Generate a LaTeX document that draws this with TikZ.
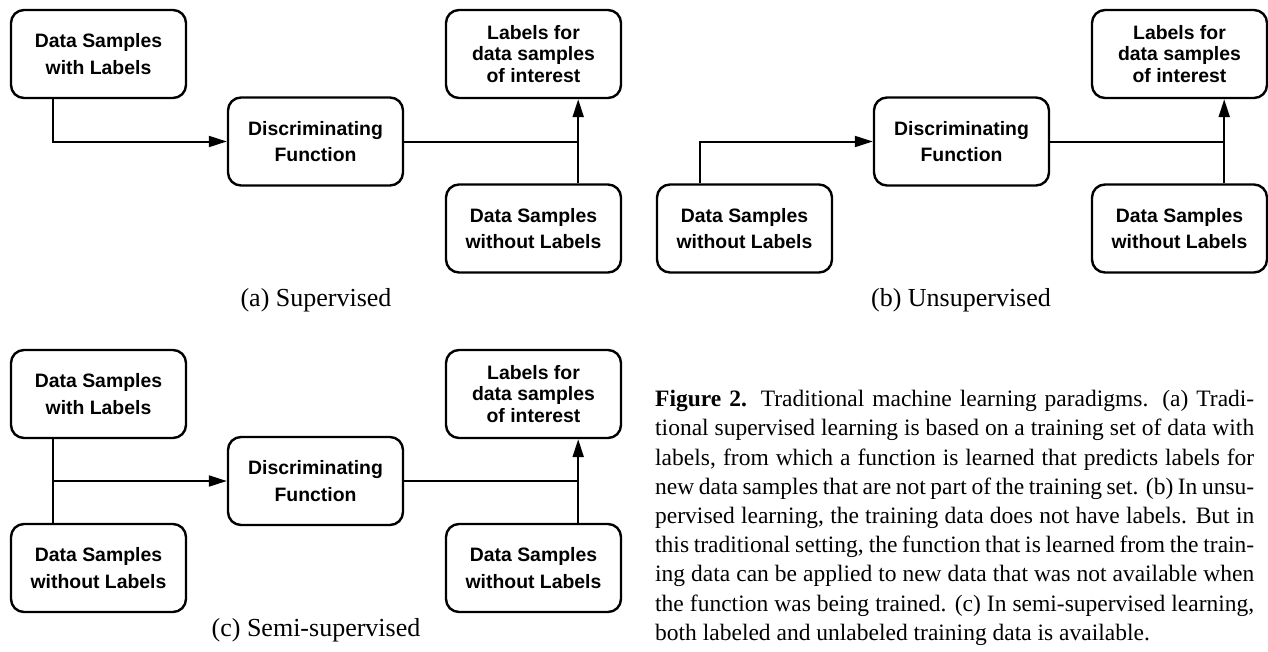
\documentclass[tikz,border=0pt]{standalone}
\usepackage{fontspec}
\setmainfont{Liberation Serif}
\newfontfamily\boxfont{Liberation Sans}
\usetikzlibrary{arrows.meta,calc}
\begin{document}
\begin{tikzpicture}[x=1pt,y=-1pt,
 box/.style={draw, line width=2.4pt, rounded corners=13pt, minimum width=175pt, minimum height=88pt, inner sep=0pt, align=center, font=\boxfont\bfseries\fontsize{19.4}{26.7}\selectfont},
 tbox/.style={box, font=\boxfont\bfseries\fontsize{19.4}{21.4}\selectfont},
 conn/.style={line width=2pt},
 arr/.style={conn, -{Triangle[length=18pt,width=11pt]}},
 sub/.style={anchor=base, inner sep=0pt, font=\fontsize{26}{31}\selectfont},
 para/.style={anchor=base west, inner sep=0pt, font=\fontsize{23.5}{29.2}\selectfont}]
\useasboundingbox (0,0) rectangle (1268,651);

% (a) Supervised
\node[box] (a1) at (98.5,54) {Data Samples\\with Labels};
\node[box] (adf) at (315.5,141.5) {Discriminating\\Function};
\node[tbox] (al) at (533.5,54) {Labels for\\data samples\\of interest};
\node[box] (ab) at (533.5,228.5) {Data Samples\\without Labels};
\draw[arr] ([xshift=43pt]a1.south west) |- (adf.west);
\coordinate (aj) at ([xshift=-44pt]ab.north east);
\draw[conn] (adf.east) -- (adf.east -| aj);
\draw[arr] (aj) -- (aj |- al.south);
\node[sub] (sa) at (316,306.7) {(a) Supervised};

% (b) Unsupervised
\node[box] (bu) at (744.5,228.5) {Data Samples\\without Labels};
\node[box] (bdf) at (961.5,141.5) {Discriminating\\Function};
\node[tbox] (bl) at (1179.5,54) {Labels for\\data samples\\of interest};
\node[box] (bb) at (1179.5,228.5) {Data Samples\\without Labels};
\draw[arr] ([xshift=44pt]bu.north west) |- (bdf.west);
\coordinate (bj) at ([xshift=-44pt]bb.north east);
\draw[conn] (bdf.east) -- (bdf.east -| bj);
\draw[arr] (bj) -- (bj |- bl.south);
\node[sub] (sb) at (961,306.7) {(b) Unsupervised};

% (c) Semi-supervised
\node[box] (c1) at (98.5,394) {Data Samples\\with Labels};
\node[box] (cu) at (98.5,568) {Data Samples\\without Labels};
\node[box] (cdf) at (315.5,481) {Discriminating\\Function};
\node[tbox] (cl) at (533.5,394) {Labels for\\data samples\\of interest};
\node[box] (cb) at (533.5,568) {Data Samples\\without Labels};
\coordinate (ci) at ([xshift=43pt]c1.south west);
\draw[conn] (ci) -- (ci |- cu.north);
\draw[arr] (ci |- cdf.west) -- (cdf.west);
\coordinate (cj) at ([xshift=-44pt]cb.north east);
\draw[conn] (cdf.east) -- (cdf.east -| cj);
\draw[arr] (cj) -- (cj |- cl.south);
\node[sub] (sc) at (316,636) {(c) Semi-supervised};

% Caption
\node[para] (p0) at (655,406.7) {\makebox[599pt][s]{\textbf{Figure 2.} Traditional machine learning paradigms. (a) Tradi-}};
\node[para] (p1) at (655,435.9) {\makebox[599pt][s]{tional supervised learning is based on a training set of data with}};
\node[para] (p2) at (655,465.1) {\makebox[599pt][s]{labels, from which a function is learned that predicts labels for}};
\node[para] (p3) at (655,494.3) {\makebox[599pt][s]{new data samples that are not part of the training set. (b) In unsu-}};
\node[para] (p4) at (655,523.5) {\makebox[599pt][s]{pervised learning, the training data does not have labels. But in}};
\node[para] (p5) at (655,552.7) {\makebox[599pt][s]{this traditional setting, the function that is learned from the train-}};
\node[para] (p6) at (655,581.9) {\makebox[599pt][s]{ing data can be applied to new data that was not available when}};
\node[para] (p7) at (655,611.1) {\makebox[599pt][s]{the function was being trained. (c) In semi-supervised learning,}};
\node[para] (p8) at (655,640.3) {both labeled and unlabeled training data is available.};
\end{tikzpicture}
\end{document}
